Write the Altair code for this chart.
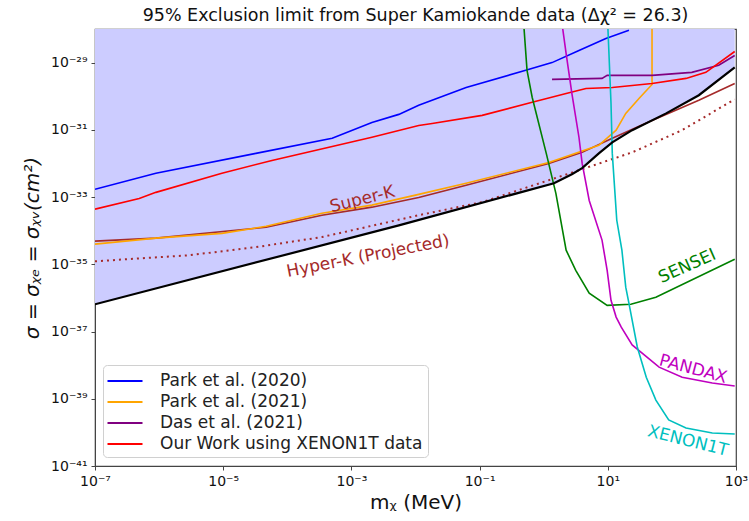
import altair as alt
import pandas as pd

FONT = "DejaVu Sans"

# ---- data (log10 m [MeV], log10 sigma [cm^2]) ----
park2020_lm = [-7, -6.05, -4.49, -3.30, -2.68, -2.26, -1.95, -1.21, -0.28, 0.13, 0.55, 0.97, 1.33]
park2020_ls = [-32.77, -32.29, -31.70, -31.25, -30.78, -30.54, -30.27, -29.74, -29.23, -29.0, -28.64, -28.28, -28.04]

park2021_lm = [-7, -6.05, -5.02, -4.33, -3.46, -2.68, -1.95, -1.21, 0.08, 0.86, 1.13, 1.28, 1.49, 1.69, 1.69]
park2021_ls = [-34.40, -34.22, -34.08, -33.87, -33.48, -33.24, -32.92, -32.59, -31.97, -31.46, -31.01, -30.51, -30.06, -29.65, -27.9]

das2021_lm = [0.13, 0.91, 0.99, 1.69, 2.31, 2.73, 2.98]
das2021_ls = [-29.50, -29.47, -29.38, -29.38, -29.29, -29.08, -28.79]

ours_lm = [-7, -6.31, -6.05, -5.02, -4.24, -3.35, -2.68, -1.95, -1.74, -0.96, -0.18, 0.35, 0.66, 1.07, 1.69, 2.22, 2.53, 2.98]
ours_ls = [-33.36, -33.04, -32.86, -32.29, -31.91, -31.52, -31.22, -30.87, -30.81, -30.57, -30.18, -29.92, -29.77, -29.74, -29.62, -29.47, -29.29, -28.67]

superk_lm = [-7, -6.05, -4.33, -3.46, -2.68, -1.95, -1.21, 0.08, 0.60, 1.07, 1.69, 2.42, 2.98]
superk_ls = [-34.31, -34.22, -33.90, -33.54, -33.30, -33.01, -32.65, -32.0, -31.67, -31.25, -30.72, -30.12, -29.62]

hyperk_lm = [-7, -5.53, -4.49, -3.46, -1.95, -0.96, 0.60, 1.38, 2.16, 2.98]
hyperk_ls = [-34.91, -34.73, -34.49, -34.19, -33.54, -33.15, -32.17, -31.67, -31.01, -30.09]

bound_lm = [-7, -2.26, 0.16, 0.44, 0.60, 0.86, 1.07, 1.38, 1.91, 2.42, 2.98]
bound_ls = [-36.19, -33.84, -32.59, -32.32, -32.14, -31.70, -31.37, -31.01, -30.51, -29.97, -29.14]

sensei_lm = [-0.31, -0.26, -0.18, 0.04, 0.19, 0.35, 0.50, 0.71, 0.99, 1.36, 1.75, 2.98]
sensei_ls = [-27.9, -29.23, -30.03, -31.70, -32.89, -34.58, -35.18, -35.86, -36.22, -36.19, -35.98, -34.85]

pandax_lm = [0.29, 0.35, 0.44, 0.55, 0.60, 0.71, 0.91, 0.99, 1.05, 1.13, 1.21, 1.38, 1.80, 2.16, 2.63, 2.98]
pandax_ls = [-27.9, -28.73, -29.92, -31.22, -32.0, -33.10, -34.28, -35.18, -36.07, -36.57, -36.87, -37.40, -38.06, -38.36, -38.53, -38.62]

xenon_lm = [1.0, 1.05, 1.07, 1.14, 1.22, 1.28, 1.33, 1.46, 1.60, 1.75, 1.95, 2.22, 2.63, 2.98]
xenon_ls = [-27.9, -30.21, -31.70, -33.69, -34.58, -35.68, -36.16, -37.46, -38.36, -39.04, -39.63, -39.87, -40.02, -40.05]

legend_names = ["Park et al. (2020)", "Park et al. (2021)", "Das et al. (2021)", "Our Work using XENON1T data"]
legend_colors = ["#0000ff", "#ffa500", "#800080", "#ff0000"]

label_texts = ["Super-K", "Hyper-K (Projected)", "SENSEI", "PANDAX", "XENON1T"]
label_lm = [-2.83, -2.74, 2.24, 2.33, 2.25]
label_ls = [-33.07, -34.76, -35.06, -38.12, -40.26]
label_colors = ["#a52a2a", "#a52a2a", "#008000", "#bf00bf", "#00bfbf"]
label_angles = [346, 349, 336, 15, 14]

x_ticks = [-7, -5, -3, -1, 1, 3]
y_ticks = [-41, -39, -37, -35, -33, -31, -29]
y_top = -28


def table(name, lm, ls):
    return pd.DataFrame({"series": name, "i": range(len(lm)),
                         "m": [10.0 ** v for v in lm], "s": [10.0 ** v for v in ls]})


legend_df = pd.concat([
    table(legend_names[0], park2020_lm, park2020_ls),
    table(legend_names[1], park2021_lm, park2021_ls),
    table(legend_names[2], das2021_lm, das2021_ls),
    table(legend_names[3], ours_lm, ours_ls),
])

SUP = str.maketrans("-0123456789", "⁻⁰¹²³⁴⁵⁶⁷⁸⁹")


def label_expr(exps):
    expr = "''"
    for e in exps:
        expr = f"round(log(datum.value)/LN10) == {e} ? '10{str(e).translate(SUP)}' : ({expr})"
    return expr


xscale = alt.Scale(type="log", domain=[1e-7, 1e3], nice=False)
yscale = alt.Scale(type="log", domain=[10.0 ** y_ticks[0], 10.0 ** y_top], nice=False)

X = alt.X("m:Q", scale=xscale,
          axis=alt.Axis(values=[10.0 ** e for e in x_ticks], labelExpr=label_expr(x_ticks),
                        title="mᵪ (MeV)", grid=False, labelFlush=False, labelOverlap=False))
Y = alt.Y("s:Q", scale=yscale,
          axis=alt.Axis(values=[10.0 ** e for e in y_ticks], labelExpr=label_expr(y_ticks),
                        title="σ = σᵪₑ = σᵪᵥ(cm²)", grid=False, labelFlush=False,
                        labelOverlap=False, titleFontStyle="italic"))

bound_df = table("bound", bound_lm, bound_ls)
bound_df["top"] = 10.0 ** y_top

shade = alt.Chart(bound_df).mark_area(color="#ccccff", opacity=1, clip=True).encode(
    x=X, y=Y, y2="top:Q")


def line(lm, ls, color, width=1.6, dash=None):
    kw = dict(color=color, strokeWidth=width, clip=True)
    if dash:
        kw["strokeDash"] = dash
        kw["strokeCap"] = "butt"
    return alt.Chart(table("x", lm, ls)).mark_line(**kw).encode(x=X, y=Y, order="i:Q")


legend_lines = alt.Chart(legend_df).mark_line(strokeWidth=1.6, clip=True).encode(
    x=X, y=Y, order="i:Q",
    color=alt.Color("series:N",
                    scale=alt.Scale(domain=legend_names, range=legend_colors),
                    legend=alt.Legend(title=None, orient="none", legendX=8, legendY=336,
                                      direction="vertical",
                                      symbolType="M-1.75,0H1.75", symbolSize=400,
                                      symbolStrokeWidth=2, symbolOffset=6,
                                      labelFontSize=17, labelFont=FONT, labelColor="#222222",
                                      labelOffset=24, rowPadding=2, padding=5,
                                      strokeColor="#d0d0d0", fillColor="#ffffff",
                                      cornerRadius=4, labelLimit=400)),
)

labels_df = pd.DataFrame({"t": label_texts, "m": [10.0 ** v for v in label_lm],
                          "s": [10.0 ** v for v in label_ls]})
labels = alt.layer(*[
    alt.Chart(labels_df.iloc[[k]]).mark_text(
        fontSize=17, font=FONT, color=label_colors[k], angle=label_angles[k],
        align="center", baseline="middle").encode(x=X, y=Y, text="t:N")
    for k in range(len(label_texts))
])

chart = alt.layer(
    shade,
    line(superk_lm, superk_ls, "#a52a2a"),
    line(hyperk_lm, hyperk_ls, "#a52a2a", width=2, dash=[2, 4]),
    legend_lines,
    line(sensei_lm, sensei_ls, "#008000"),
    line(pandax_lm, pandax_ls, "#bf00bf"),
    line(xenon_lm, xenon_ls, "#00bfbf"),
    line(bound_lm, bound_ls, "#000000", width=2.2),
    labels,
).properties(
    width=641, height=437,
    title=alt.TitleParams("95% Exclusion limit from Super Kamiokande data (Δχ² = 26.3)",
                          font=FONT, fontSize=17.5, fontWeight="normal", color="#111111",
                          anchor="middle", offset=5),
    autosize=alt.AutoSizeParams(type="none"),
    padding={"left": 95, "top": 29, "right": 12, "bottom": 55},
).configure_view(
    stroke="#444444", strokeWidth=1.2,
).configure_axis(
    labelFont=FONT, labelFontSize=14, labelColor="#111111",
    titleFont=FONT, titleFontSize=20, titleFontWeight="normal", titleColor="#111111",
    tickColor="#444444", domainColor="#444444", tickSize=4, labelPadding=4,
).configure_axisX(titlePadding=4).configure_axisY(titlePadding=8)

chart.save("out.html", embed_options={"renderer": "svg", "actions": False})
